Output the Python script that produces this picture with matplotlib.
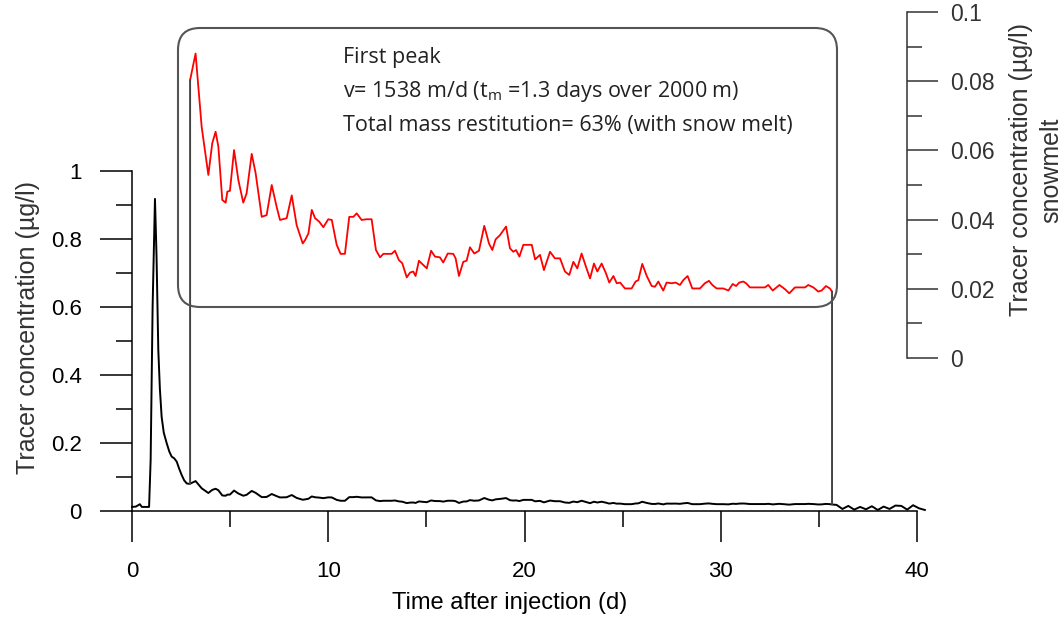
import matplotlib
matplotlib.use("Agg")
import matplotlib.pyplot as plt
import numpy as np
from matplotlib.patches import FancyBboxPatch, ConnectionPatch

# tracer breakthrough
time_early = [0.0, 0.2, 0.4, 0.5, 0.7, 0.87, 0.95, 1.05, 1.17, 1.25, 1.34, 1.42,
              1.51, 1.62, 1.77, 1.9, 2.02, 2.15, 2.28, 2.4, 2.53, 2.66, 2.79, 2.9]
conc_early = [0.012, 0.013, 0.02, 0.012, 0.012, 0.012, 0.15, 0.6, 0.918, 0.75, 0.474, 0.36,
              0.277, 0.23, 0.199, 0.175, 0.160, 0.155, 0.145, 0.125, 0.106, 0.09, 0.081, 0.08]

# part shown zoomed on the snowmelt axis
time_snow = [2.96, 3.24, 3.55, 3.89, 4.09, 4.26, 4.40, 4.60, 4.77, 4.86, 4.99, 5.20, 5.42,
             5.67, 5.84, 6.10, 6.30, 6.61, 6.86, 7.12, 7.37, 7.54, 7.88, 8.14, 8.39, 8.70,
             8.82, 8.99, 9.16, 9.33, 9.54, 9.75, 10.0, 10.18, 10.43, 10.63, 10.85, 11.07,
             11.28, 11.45, 11.70, 11.96, 12.21, 12.43, 12.64, 12.81, 13.23, 13.40, 13.6,
             13.77, 14.0, 14.17, 14.33, 14.45, 14.62, 14.84, 15.02, 15.24, 15.44, 15.69,
             15.86, 16.09, 16.37, 16.49, 16.66, 16.88, 17.05, 17.22, 17.44, 17.68, 17.95,
             18.19, 18.36, 18.53, 18.75, 19.06, 19.26, 19.43, 19.57, 19.74, 19.94, 20.19,
             20.37, 20.54, 20.79, 20.99, 21.30, 21.55, 21.81, 22.06, 22.28, 22.49, 22.69,
             22.91, 23.13, 23.34, 23.54, 23.71, 23.93, 24.15, 24.32, 24.53, 24.70, 24.87,
             25.12, 25.46, 25.66, 25.80, 26.00, 26.23, 26.48, 26.65, 26.82, 26.96, 27.07,
             27.24, 27.50, 27.70, 27.92, 28.09, 28.31, 28.55, 28.94, 29.19, 29.40, 29.57,
             29.79, 30.13, 30.39, 30.61, 30.78, 30.94, 31.15, 31.29, 31.49, 32.25, 32.42,
             32.65, 32.99, 33.27, 33.49, 33.78, 34.29, 34.46, 34.72, 34.97, 35.14, 35.36,
             35.56, 35.67]
conc_snow = [0.0803, 0.088, 0.0668, 0.0529, 0.0621, 0.0654, 0.0611, 0.0457, 0.0449, 0.0481,
             0.0483, 0.0601, 0.0514, 0.0449, 0.0476, 0.0590, 0.0534, 0.0408, 0.0413, 0.0500,
             0.0437, 0.0399, 0.0404, 0.0470, 0.0384, 0.0331, 0.0341, 0.0360, 0.0428, 0.0404,
             0.0394, 0.0378, 0.0401, 0.0399, 0.0327, 0.0301, 0.0301, 0.0408, 0.0408, 0.0418,
             0.0399, 0.0401, 0.0401, 0.0312, 0.0291, 0.0301, 0.0301, 0.0310, 0.0283, 0.0274,
             0.0233, 0.0247, 0.0250, 0.0237, 0.0281, 0.0269, 0.0259, 0.0310, 0.0293, 0.0291,
             0.0276, 0.0302, 0.0301, 0.0288, 0.0237, 0.0278, 0.0281, 0.0320, 0.0302, 0.0310,
             0.0382, 0.0331, 0.0312, 0.0343, 0.0355, 0.0380, 0.0317, 0.0307, 0.0312, 0.0293,
             0.0327, 0.0327, 0.0327, 0.0285, 0.0298, 0.0254, 0.0307, 0.0288, 0.0288, 0.0250,
             0.0240, 0.0278, 0.0259, 0.0302, 0.0264, 0.0230, 0.0273, 0.0250, 0.0273, 0.0245,
             0.0218, 0.0237, 0.0216, 0.0218, 0.0201, 0.0201, 0.0221, 0.0225, 0.0272, 0.0237,
             0.0208, 0.0206, 0.0221, 0.0206, 0.0195, 0.0218, 0.0216, 0.0218, 0.0211, 0.0225,
             0.0237, 0.0201, 0.0201, 0.0216, 0.0223, 0.0211, 0.0201, 0.0201, 0.0195, 0.0214,
             0.0208, 0.0218, 0.0221, 0.0216, 0.0204, 0.0204, 0.0211, 0.0195, 0.0211, 0.0199,
             0.0187, 0.0204, 0.0204, 0.0211, 0.0204, 0.0192, 0.0195, 0.0208, 0.0201, 0.0192]

time_late = [35.9, 36.2, 36.5, 36.8, 37.1, 37.4, 37.7, 38.0, 38.3, 38.6, 38.9, 39.2,
             39.5, 39.8, 40.1, 40.4]
conc_late = [0.018, 0.006, 0.015, 0.004, 0.012, 0.005, 0.014, 0.003, 0.013, 0.006, 0.016,
             0.015, 0.004, 0.017, 0.008, 0.003]

y_ticks = [0, 0.2, 0.4, 0.6, 0.8, 1.0]
y_labels = ["0", "0.2", "0.4", "0.6", "0.8", "1"]
snow_ticks = [0, 0.02, 0.04, 0.06, 0.08, 0.1]
snow_labels = ["0", "0.02", "0.04", "0.06", "0.08", "0.1"]
x_ticks = [0, 10, 20, 30, 40]

note_lines = [
    "First peak",
    "v= 1538 m/d (t$_\\mathrm{m}$ =1.3 days over 2000 m)",
    "Total mass restitution= 63% (with snow melt)",
]

plt.rcParams["font.family"] = "Liberation Sans"
plt.rcParams["mathtext.fontset"] = "custom"
plt.rcParams["mathtext.rm"] = "Open Sans"

W, H = 1064, 617
fig = plt.figure(figsize=(W / 100, H / 100), dpi=100)


def px(x0, y0, w, h):
    return [x0 / W, 1 - (y0 + h) / H, w / W, h / H]


ax = fig.add_axes(px(132, 171, 785, 340))
ax2 = fig.add_axes(px(132, 12, 785, 346))
ax2.patch.set_alpha(0)

time_all = np.array(time_early + time_snow + time_late)
conc_all = np.array(conc_early + conc_snow + conc_late)
ax.plot(time_all, conc_all, color="black", lw=1.4, clip_on=False, zorder=3)
ax2.plot(time_snow, conc_snow, color="#ff0000", lw=1.3, zorder=3)

ax.set_xlim(0, 40)
ax.set_ylim(0, 1)
ax2.set_xlim(0, 40)
ax2.set_ylim(0, 0.1)

for s in ["top", "right"]:
    ax.spines[s].set_visible(False)
for s in ["top", "left", "bottom"]:
    ax2.spines[s].set_visible(False)
ax2.spines["right"].set_position(("axes", (907 - 132) / 785))
ax2.spines["right"].set_color("#333333")
ax2.xaxis.set_visible(False)
ax2.yaxis.tick_right()

ax.set_xticks(x_ticks)
ax.set_xticks([5, 15, 25, 35], minor=True)
ax.set_yticks(y_ticks)
ax.set_yticklabels(y_labels)
ax.set_yticks(np.arange(0.1, 1.0, 0.2), minor=True)
ax.tick_params(axis="x", which="major", direction="out", length=22, width=1.1, pad=14, labelsize=16)
ax.tick_params(axis="x", which="minor", direction="out", length=11.5, width=1.1)
ax.tick_params(axis="y", which="major", direction="out", length=23, width=1.1, pad=13, labelsize=16)
ax.tick_params(axis="y", which="minor", direction="out", length=11.5, width=1.1)

ax2.set_yticks(snow_ticks)
ax2.set_yticklabels(snow_labels)
ax2.set_yticks(np.arange(0.01, 0.1, 0.02), minor=True)
ax2.tick_params(axis="y", which="major", direction="out", length=22, width=1.1, pad=9,
                labelsize=16.5, colors="#333333", labelcolor="#333333")
ax2.tick_params(axis="y", which="minor", direction="out", length=11, width=1.1, colors="#333333")
for sp in ax.spines.values():
    sp.set_linewidth(1.1)
ax2.spines["right"].set_linewidth(1.1)

fig.text(510 / W, 1 - 603 / H, "Time after injection (d)", ha="center", va="center", fontsize=17)
fig.text(28 / W, 1 - 327 / H, "Tracer concentration (µg/l)", ha="center", va="center",
         rotation=90, fontsize=18, color="#333333")
fig.text(1036 / W, 1 - 170 / H, "Tracer concentration (µg/l)\nsnowmelt", ha="center",
         va="center", rotation=90, fontsize=18, multialignment="center",
         linespacing=1.3, color="#333333")

# rounded box around the zoomed snowmelt curve
box = FancyBboxPatch((1.78, (H - 307) / 100), 8.37 - 1.78, (307 - 28) / 100,
                     boxstyle="round,pad=0,rounding_size=0.22",
                     transform=fig.dpi_scale_trans, fill=False,
                     edgecolor="#555555", lw=1.5, zorder=5)
fig.patches.append(box)

for tx, cy in [(time_snow[0], conc_snow[0]), (time_snow[-1], conc_snow[-1])]:
    yb = np.interp(tx, time_all, conc_all)
    con = ConnectionPatch(xyA=(tx, cy), coordsA=ax2.transData,
                          xyB=(tx, yb), coordsB=ax.transData,
                          color="#444444", lw=1.4, zorder=4)
    fig.add_artist(con)

for i, line in enumerate(note_lines):
    fig.text(343 / W, 1 - (58 + 33.5 * i) / H, line, ha="left", va="center",
             fontsize=15.5, family="Open Sans", color="#222222")

fig.savefig("out.png", dpi=100)
